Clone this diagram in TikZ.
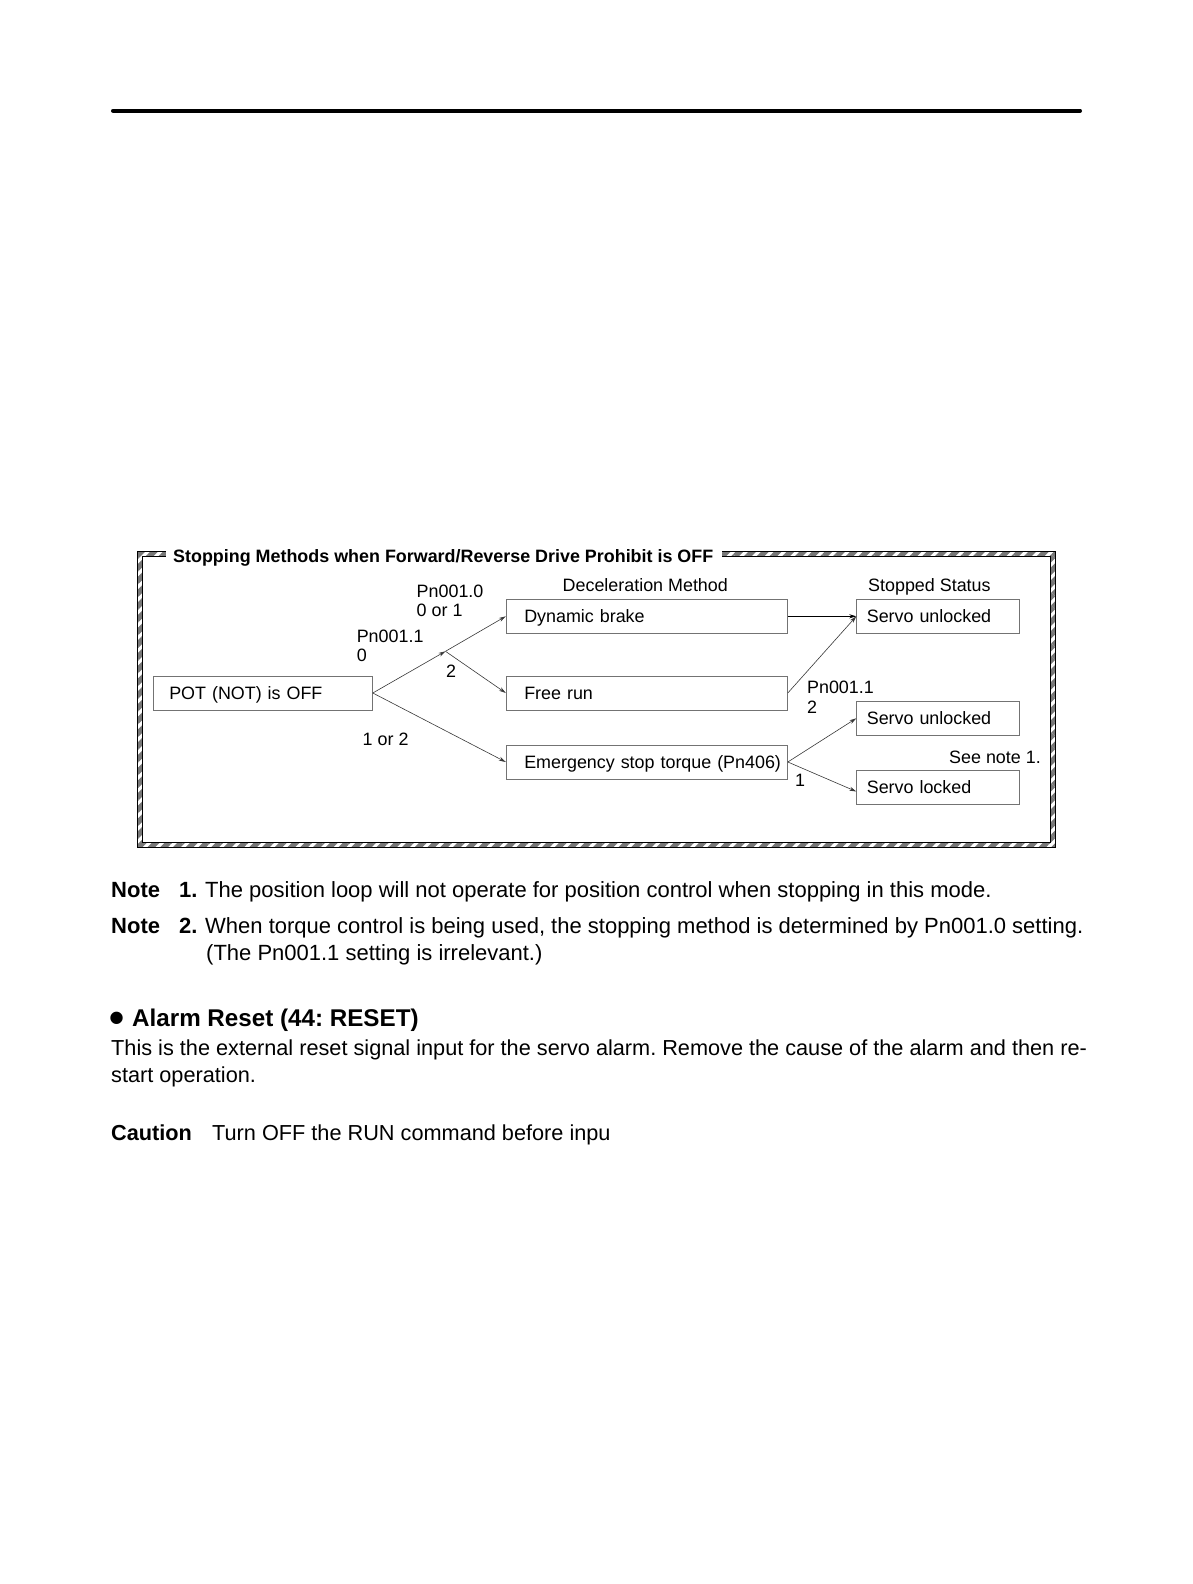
\documentclass[tikz,border=0pt]{standalone}
\usepackage{fontspec}
\setmainfont{Liberation Sans}
\usetikzlibrary{arrows.meta,patterns.meta}
\definecolor{framegray}{RGB}{120,120,120}
\definecolor{boxgray}{RGB}{115,115,115}
\definecolor{linegray}{RGB}{55,55,55}
\newcommand{\diagfont}{\fontsize{17.9}{21}\selectfont}
\newcommand{\bodyfont}{\fontsize{21.7}{26}\selectfont}
\newcommand{\notefont}{\fontsize{22}{26}\selectfont}
\newcommand{\headfont}{\fontsize{24.2}{28}\selectfont}
\newcommand{\bigbullet}{\makebox[22.7pt][l]{\raisebox{-6.5pt}{\fontsize{43}{43}\selectfont •}}}
\frenchspacing

\begin{document}
\begin{tikzpicture}[x=1pt, y=-1pt, >={Stealth[length=7pt,width=4pt]},
    textbox/.style 2 args={draw=boxgray, line width=1pt, minimum height=34pt, inner xsep=0pt,
        text width=#1, align=left, text height=12.8pt, text depth=0pt, font=\diagfont,
        execute at begin node={\hspace*{#2}}},
    methodbox/.style={textbox={281pt}{18pt}},
    statusbox/.style={textbox={163pt}{10pt}},
    potbox/.style={textbox={219pt}{16pt}},
    flow/.style={->, draw=linegray, line width=0.6pt},
    lbl/.style={anchor=base west, inner sep=0pt, font=\diagfont},
    body/.style={anchor=base west, inner sep=0pt, font=\bodyfont},
    bodybold/.style={body, font=\bodyfont\bfseries},
    note/.style={body, font=\notefont},
    notebold/.style={body, font=\notefont\bfseries}]
    \useasboundingbox (0,0) rectangle (1192,1584);

    % Rule at the head of the page
    \draw[line width=4pt, line cap=round] (113,110.7) -- (1080,110.7);

    % Hatched frame
    \fill[pattern={Lines[angle=45,distance=9pt,line width=5.5pt]}, pattern color=framegray, even odd rule]
        (137,551) rectangle (1055,847) (142,556) rectangle (1050,842);
    \draw[line width=1pt] (137,551) rectangle (1055,847);
    \draw[line width=1pt] (142,556) rectangle (1050,842);
    \fill[white] (166,547) rectangle (722,560);
    \node[lbl, font=\diagfont\bfseries] (title) at (173,562.4) {Stopping Methods when Forward/Reverse Drive Prohibit is OFF};

    % Column heads
    \node[lbl, anchor=base] (methodhead) at (645.3,591.5) {Deceleration Method};
    \node[lbl, anchor=base] (statushead) at (929.4,591.5) {Stopped Status};

    % Boxes
    \node[potbox] (pot) at (262.8,693) {POT (NOT) is OFF};
    \node[methodbox] (dyn) at (646.8,616.3) {Dynamic brake};
    \node[methodbox] (free) at (646.8,693) {Free run};
    \node[methodbox] (emer) at (646.8,762) {Emergency stop torque (Pn406)};
    \node[statusbox] (unlA) at (938.3,616.3) {Servo unlocked};
    \node[statusbox] (unlB) at (938.3,718.3) {Servo unlocked};
    \node[statusbox] (lock) at (938.3,787.5) {Servo locked};

    % Branch labels
    \node[lbl] (pnzero) at (416.5,597.3) {Pn001.0};
    \node[lbl] (pnzeroval) at (416.5,616.3) {0 or 1};
    \node[lbl] (pnone) at (356.6,642.7) {Pn001.1};
    \node[lbl] (pnoneval) at (356.6,661.7) {0};
    \node[lbl] (forktwo) at (446,677.3) {2};
    \node[lbl] (pnonealt) at (362.5,745) {1 or 2};
    \node[lbl] (pnright) at (806.9,693.3) {Pn001.1};
    \node[lbl] (pnrightval) at (806.9,713.3) {2};
    \node[lbl] (seenote) at (949,763.3) {See note 1.};
    \node[lbl] (lockone) at (795,786) {1};

    % Connectors
    \coordinate (fork) at (445.5,651.3);
    \draw[flow] (pot.east) -- (fork);
    \draw[flow] (fork) -- (dyn.west);
    \draw[flow] (fork) -- (free.west);
    \draw[flow] (pot.east) -- (emer.west);
    \draw[flow, draw=black, line width=1.1pt] (dyn.east) -- (unlA.west);
    \draw[flow] (free.east) -- (unlA.west);
    \draw[flow] (emer.east) -- (unlB.west);
    \draw[flow] (emer.east) -- ([yshift=-4pt]lock.west);

    % Notes and text below the frame
    \node[notebold] (noteA) at (111,897.7) {Note};
    \node[notebold] (noteAnum) at (179,897.7) {1.};
    \node[note] (noteAtxt) at (205,897.7) {The position loop will not operate for position control when stopping in this mode.};
    \node[notebold] (noteB) at (111,933) {Note};
    \node[notebold] (noteBnum) at (179,933) {2.};
    \node[note] (noteBtxt) at (205,933) {When torque control is being used, the stopping method is determined by Pn001.0 setting.};
    \node[note] (noteBmore) at (206,960.3) {(The Pn001.1 setting is irrelevant.)};

    \node[body, font=\headfont\bfseries] (alarm) at (109.3,1026) {\bigbullet Alarm Reset (44: RESET)};
    \node[body] (alarmA) at (111,1055.3) {This is the external reset signal input for the servo alarm. Remove the cause of the alarm and then re-};
    \node[body] (alarmB) at (111,1082.6) {start operation.};

    \node[bodybold] (caution) at (111,1140) {Caution};
    \node[body] (cautiontxt) at (212,1140) {Turn OFF the RUN command before inpu};
\end{tikzpicture}
\end{document}
